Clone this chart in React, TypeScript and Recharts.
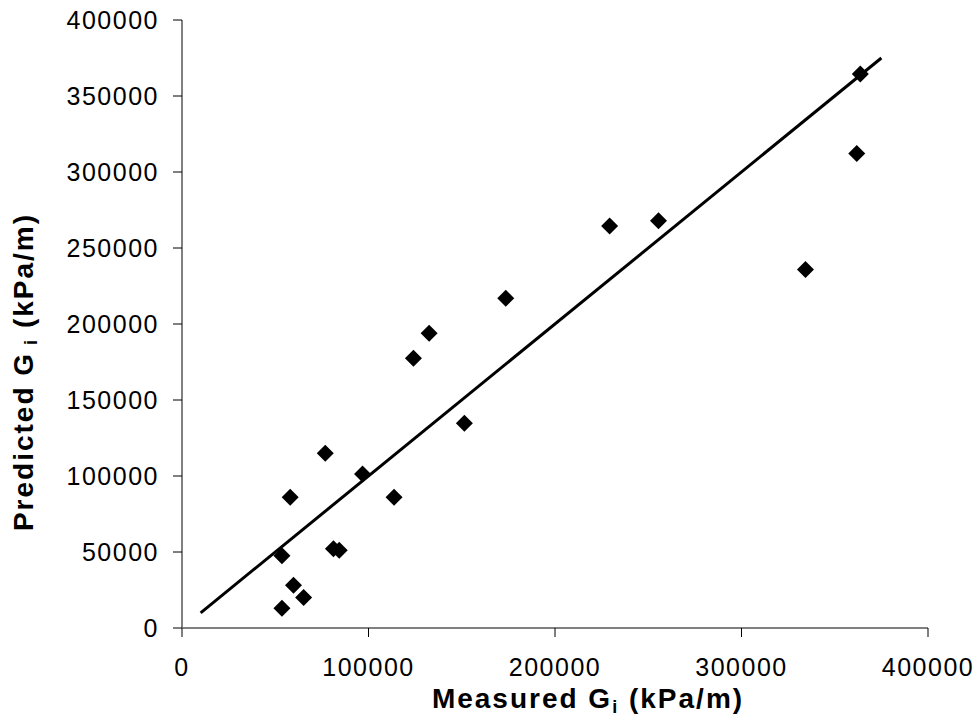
import { ReferenceLine, Scatter, ScatterChart, XAxis, YAxis, Label } from "recharts";

const measured = [53600, 59800, 65200, 53600, 58000, 76800, 81200, 84300, 96800, 113700, 124100, 132500, 151400, 173600, 229300, 255500, 334300, 361800, 363700];
const predicted = [13000, 28100, 20000, 47600, 86000, 114900, 52200, 51100, 101300, 86000, 177400, 193900, 134700, 217000, 264500, 268000, 235800, 312100, 364500];
const fitX = [10000, 375000];
const fitY = [10000, 375000];
const axisTicks = [0, 100000, 200000, 300000, 400000];
const yTicks = [0, 50000, 100000, 150000, 200000, 250000, 300000, 350000, 400000];

const points = measured.map((x, i) => ({ x, y: predicted[i] }));

const tickFont = { fontFamily: "Liberation Sans, Arial", fontSize: 25, letterSpacing: 1.5, fill: "#000" };
const titleFont = { fontFamily: "Liberation Sans, Arial", fontWeight: 700, fontSize: 28, letterSpacing: 2, fill: "#000" };

function Diamond(props: any) {
  const { cx, cy } = props;
  const r = 8.5;
  return <polygon points={`${cx},${cy - r} ${cx + r},${cy} ${cx},${cy + r} ${cx - r},${cy}`} fill="#000" />;
}

function XTitle(props: any) {
  const vb = props.viewBox;
  return (
    <text x={vb.x + vb.width / 2 + 33} y={vb.y + 80} textAnchor="middle" style={titleFont}>
      Measured G
      <tspan fontSize={18} dy={5}>i</tspan>
      <tspan dy={-5}> (kPa/m)</tspan>
    </text>
  );
}

function YTitle(props: any) {
  const vb = props.viewBox;
  const x = vb.x + 33;
  const y = vb.y + vb.height / 2 + 48;
  return (
    <text x={x} y={y} textAnchor="middle" transform={`rotate(-90, ${x}, ${y})`} style={titleFont}>
      Predicted G
      <tspan fontSize={18} dy={4}> i</tspan>
      <tspan dy={-4}> (kPa/m)</tspan>
    </text>
  );
}

export default function App() {
  return (
    <div style={{ position: "absolute", left: 0, top: 0, background: "#fff" }}>
      <ScatterChart width={977} height={719} margin={{ top: 20, right: 49, left: 0, bottom: 0 }}>
        <XAxis
          type="number"
          dataKey="x"
          domain={[0, 400000]}
          ticks={axisTicks}
          height={91}
          tick={tickFont}
          tickSize={9}
          tickMargin={21}
          axisLine={{ stroke: "#000", strokeWidth: 1 }}
          tickLine={{ stroke: "#000" }}
        >
          <Label content={<XTitle />} />
        </XAxis>
        <YAxis
          type="number"
          dataKey="y"
          domain={[0, 400000]}
          ticks={yTicks}
          width={182}
          tick={tickFont}
          tickSize={9}
          tickMargin={14}
          axisLine={{ stroke: "#808080", strokeWidth: 2 }}
          tickLine={{ stroke: "#000" }}
        >
          <Label content={<YTitle />} />
        </YAxis>
        <ReferenceLine
          segment={[{ x: fitX[0], y: fitY[0] }, { x: fitX[1], y: fitY[1] }]}
          stroke="#000"
          strokeWidth={3}
        />
        <Scatter data={points} shape={<Diamond />} isAnimationActive={false} />
      </ScatterChart>
    </div>
  );
}
